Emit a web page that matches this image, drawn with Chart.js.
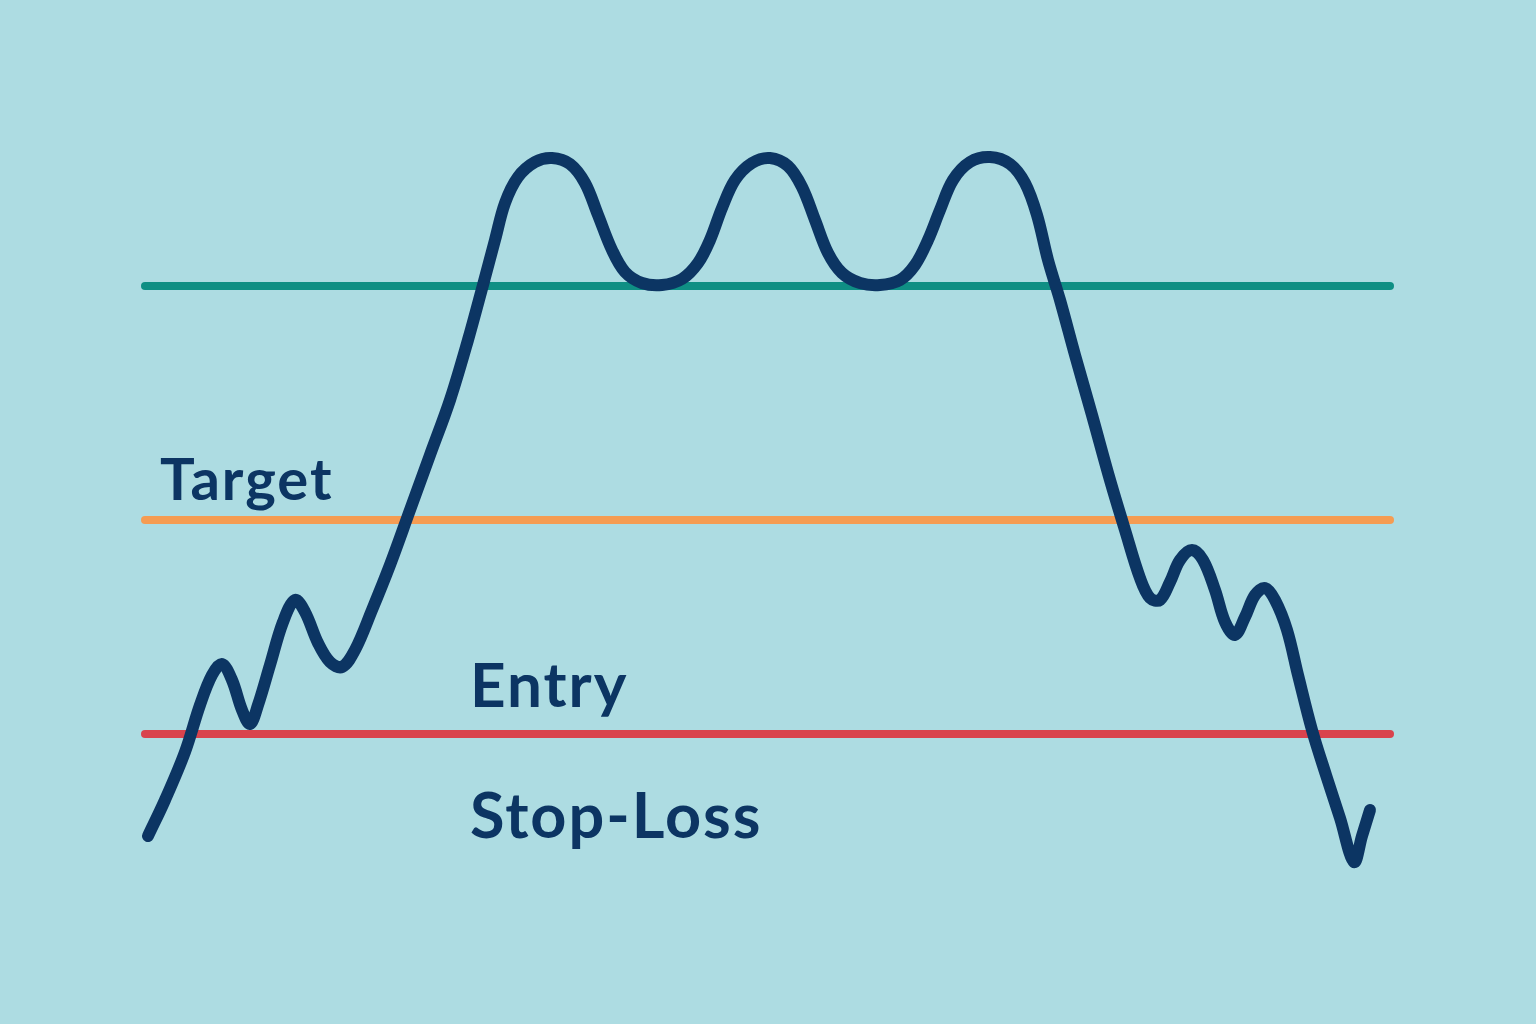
<!DOCTYPE html>
<html>
<head>
<meta charset="utf-8">
<script src="https://cdn.jsdelivr.net/npm/chart.js@4/dist/chart.umd.min.js"></script>
<style>
  html, body { margin: 0; padding: 0; background: #addce2; }
  #wrap { width: 1536px; height: 1024px; }
  canvas { display: block; }
</style>
</head>
<body>
<div id="wrap"><canvas id="c" width="1536" height="1024"></canvas></div>
<script>
// Time positions along the chart
const timeValues = [148,165,185,200,212,222,232,242,250,258,270,283,295,305,318,330,342,355,372,390,410,430,450,468,483,495,505,518,535,552,570,585,598,612,625,642,662,682,698,710,722,735,752,770,788,802,815,828,842,860,880,900,915,928,940,953,970,990,1010,1025,1037,1048,1060,1075,1092,1110,1125,1140,1150,1160,1170,1180,1192,1203,1215,1225,1235,1245,1255,1265,1275,1287,1298,1312,1326,1340,1354,1362,1370];
// Price values
const priceValues = [188,224,272,319,349,360,344,314,300,319,359,402,424,412,381,362,357,374,414,459,514,569,624,684,739,784,821,847,862,866,860,841,809,774,752,741,739,745,761,784,816,844,861,866,858,837,804,771,751,741,739,744,759,784,814,844,862,867,860,841,809,764,724,669,609,544,494,446,426,424,442,464,474,464,434,402,389,407,429,436,424,394,349,294,249,206,162,188,214];
// Horizontal level lines
const levelNames = ['Upper', 'Middle', 'Lower'];
const levelValues = [738, 504, 290];
const levelColors = ['#0f8f84', '#f59c52', '#d9434d'];
const levelStart = 145;
const levelEnd = 1390;
// Text labels
const labelTexts = ['Target', 'Entry', 'Stop-Loss'];
const labelTimes = [160, 470, 470];
const labelPrices = [524, 317, 186];
const labelSizes = [58, 62, 63];

const levelDatasets = levelValues.map((v, i) => ({
  label: levelNames[i],
  data: [{x: levelStart, y: v}, {x: levelEnd, y: v}],
  borderColor: levelColors[i],
  borderWidth: 8,
  borderCapStyle: 'round',
  pointRadius: 0,
  tension: 0,
  order: 2
}));

const priceDataset = {
  label: 'Price',
  data: timeValues.map((t, i) => ({x: t, y: priceValues[i]})),
  borderColor: '#0c3563',
  borderWidth: 12,
  borderCapStyle: 'round',
  borderJoinStyle: 'round',
  pointRadius: 0,
  tension: 0.35,
  order: 1
};

const labelPlugin = {
  id: 'labels',
  afterDatasetsDraw(chart) {
    const ctx = chart.ctx;
    const xs = chart.scales.x, ys = chart.scales.y;
    ctx.save();
    ctx.fillStyle = '#0c3563';
    ctx.textBaseline = 'alphabetic';
    ctx.textAlign = 'left';
    ctx.letterSpacing = '2px';
    labelTexts.forEach((t, i) => {
      ctx.font = 'bold ' + labelSizes[i] + 'px Lato, "Open Sans", sans-serif';
      ctx.fillText(t, xs.getPixelForValue(labelTimes[i]), ys.getPixelForValue(labelPrices[i]));
    });
    ctx.restore();
  }
};

new Chart(document.getElementById('c'), {
  type: 'line',
  data: { datasets: [...levelDatasets, priceDataset] },
  options: {
    responsive: false,
    animation: false,
    layout: { padding: 0 },
    plugins: { legend: { display: false }, tooltip: { enabled: false } },
    scales: {
      x: { type: 'linear', min: 0, max: 1536, display: false },
      y: { type: 'linear', min: 0, max: 1024, display: false }
    }
  },
  plugins: [labelPlugin]
});
</script>
</body>
</html>
